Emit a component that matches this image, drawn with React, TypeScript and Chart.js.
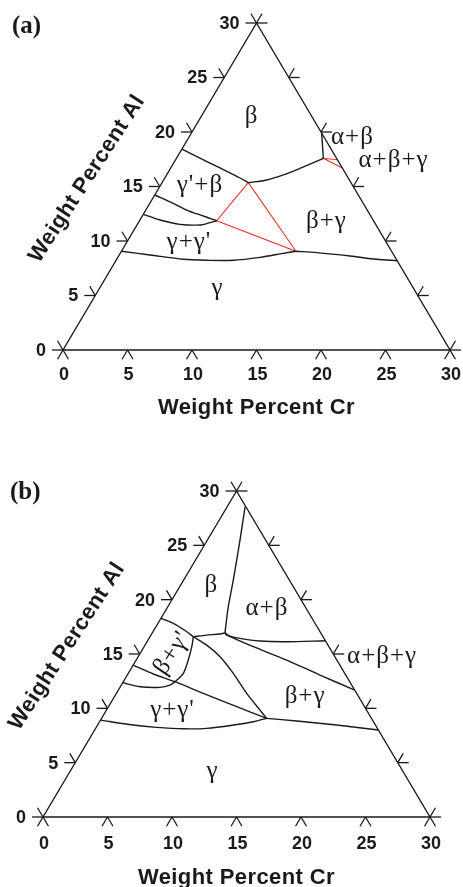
import React, { useEffect, useRef } from "react";
import { Chart, registerables } from "chart.js";

Chart.register(...registerables);

type P = [number, number]; // [Cr wt%, Al wt%]

// ---------- axes ----------
const TICK_VALUES = [0, 5, 10, 15, 20, 25, 30];
const TICK_LABELS = ["0", "5", "10", "15", "20", "25", "30"];
const X_TITLE = "Weight Percent Cr";
const Y_TITLE = "Weight Percent Al";

// ---------- panel (a) phase boundaries, [Cr, Al] wt% ----------
const A_BETA_LEFT: P[] = [[0, 18.44], [1.81, 17.61], [3.82, 16.7], [5.83, 15.78], [6.69, 15.35]];
const A_BETA_RIGHT: P[] = [[6.69, 15.35], [7.99, 15.6], [9.05, 16.06], [10.03, 16.67], [11.39, 17.59]];
const A_ALPHA_BETA: P[] = [[10.1, 19.9], [11.39, 17.59]];
const A_GP_BETA_LOW: P[] = [[0, 14.22], [1.82, 13.46], [3.17, 12.84], [4.43, 12.39], [5.36, 12.08], [5.98, 11.86]];
const A_GGP_UP: P[] = [[0, 12.45], [1.56, 11.93], [3.3, 11.53], [4.89, 11.47], [5.56, 11.68], [5.98, 11.86]];
const A_GAMMA_LEFT: P[] = [[0, 9.06], [2.38, 8.72], [5.17, 8.32], [7.03, 8.23], [9.09, 8.23], [11.02, 8.5], [12.64, 8.87], [13.53, 9.06]];
const A_GAMMA_RIGHT: P[] = [[13.53, 9.06], [15.21, 8.93], [17.94, 8.62], [20.16, 8.32], [21.82, 8.19]];
const A_TIE_CENTER: P[] = [[6.69, 15.35], [5.98, 11.86], [13.53, 9.06], [6.69, 15.35]];
const A_TIE_CORNER: P[] = [[12.55, 17.45], [11.39, 17.59], [13.3, 16.7]];

// ---------- panel (b) phase boundaries, [Cr, Al] wt% ----------
const B_BETA_ALPHA: P[] = [[1.39, 28.55], [2.53, 25.48], [3.85, 21.8], [4.69, 19.35], [5.63, 16.95]];
const B_BETA_SHORT: P[] = [[3.36, 16.59], [4.32, 16.74], [5.3, 16.84], [5.63, 16.95]];
const B_ALPHA_LOW: P[] = [[5.63, 16.95], [5.87, 16.74], [7.05, 16.44], [8.72, 16.19], [10.83, 16.13], [13.75, 16.22]];
const B_BG_ABG: P[] = [[5.63, 16.95], [6.21, 16.59], [8.47, 15.67], [11.67, 14.44], [14.94, 13.06], [18.28, 11.7]];
const B_BETA_GAMMA_DIV: P[] = [[3.36, 16.59], [4.78, 15.82], [6.35, 14.75], [8.14, 13.22], [10.1, 11.38], [11.9, 9.84], [12.8, 9.08]];
const B_BGP_UP: P[] = [[0, 18.28], [1.19, 17.82], [2.62, 17.05], [3.36, 16.59]];
const B_BGP_RIGHT: P[] = [[3.36, 16.59], [3.7, 15.67], [4.04, 14.44], [4.27, 13.22], [4.01, 12.45]];
const B_GP_LOW: P[] = [[0, 13.98], [1.97, 13.16], [4.01, 12.45], [6.74, 11.38], [9.95, 10.15], [12.8, 9.08]];
const B_GGP_UP: P[] = [[0, 12.36], [1.53, 11.99], [3.1, 11.93], [3.77, 12.14], [4.01, 12.45]];
const B_GAMMA_LEFT: P[] = [[0, 8.92], [2.77, 8.46], [4.68, 8.25], [6.82, 8.12], [8.61, 8.16], [10.52, 8.46], [11.92, 8.77], [12.8, 9.08]];
const B_GAMMA_RIGHT: P[] = [[12.8, 9.08], [15.25, 8.83], [18.54, 8.46], [21.99, 8.0]];

// ---------- phase names ----------
const A_PHASES = ["β", "α+β", "α+β+γ", "γ'+β", "β+γ", "γ+γ'", "γ"];
const B_PHASES = ["β", "α+β", "α+β+γ", "β+γ", "γ+γ'", "γ", "β+γ'"];

// ---------- styling / placement ----------
const INK = "#1a1a1a";
const RED = "#e8372c";
const T = 0.85;
const TICK_FONT = 'bold 18px "Liberation Sans", Arial, sans-serif';
const TITLE_FONT = 'bold 22px "Liberation Sans", Arial, sans-serif';
const GREEK_FONT = '25px "Liberation Serif", "Times New Roman", serif';
const PANEL_FONT = 'bold 25px "Liberation Serif", "Times New Roman", serif';

// anchor (Cr, Al) for the phase names, rotation in degrees
const A_PHASE_AT: { at: P; rot?: number }[] = [
  { at: [4.2, 20.83] }, { at: [12.99, 18.9] }, { at: [17.24, 16.76] },
  { at: [3.37, 14.5] }, { at: [14.83, 11.19] }, { at: [5.11, 9.31] }, { at: [9.46, 5.05] },
];
const B_PHASE_AT: { at: P; rot?: number }[] = [
  { at: [2.71, 20.7] }, { at: [8.07, 18.58] }, { at: [19.2, 14.17] },
  { at: [15.07, 10.49] }, { at: [5.44, 9.2] }, { at: [11.35, 3.59] }, { at: [2.46, 15.09], rot: -56 },
];

function toXY([c, a]: P) {
  return { x: c + a / 2, y: a };
}

function seg(points: P[], color: string, width: number, tension = 0) {
  return {
    data: points.map(toXY),
    showLine: true,
    borderColor: color,
    backgroundColor: color,
    borderWidth: width,
    pointRadius: 0,
    pointHoverRadius: 0,
    tension,
    fill: false,
    clip: false as any,
    borderCapStyle: "butt" as const,
  };
}

function frameDatasets() {
  const ds: any[] = [seg([[0, 0], [30, 0], [0, 30], [0, 0]], INK, 1.4)];
  for (const v of TICK_VALUES) {
    ds.push(seg([[v, 0], [v, -T]], INK, 1.3));
    ds.push(seg([[v, 0], [v + T, -T]], INK, 1.3));
    ds.push(seg([[0, v], [-T, v]], INK, 1.3));
    ds.push(seg([[0, v], [-T, v + T]], INK, 1.3));
    ds.push(seg([[30 - v, v], [30 - v + T, v]], INK, 1.3));
    ds.push(seg([[30 - v, v], [30 - v, v + T]], INK, 1.3));
  }
  return ds;
}

const textPlugin = {
  id: "ternaryText",
  afterDatasetsDraw(chart: any, _args: any, opts: any) {
    const { ctx } = chart;
    const xs = chart.scales.x;
    const ys = chart.scales.y;
    const px = (c: number, a: number) => [xs.getPixelForValue(c + a / 2), ys.getPixelForValue(a)];
    ctx.save();
    ctx.fillStyle = INK;
    // tick labels
    ctx.font = TICK_FONT;
    ctx.textBaseline = "middle";
    TICK_VALUES.forEach((v, i) => {
      const [lx, ly] = px(-T, v);
      ctx.textAlign = "right";
      ctx.fillText(TICK_LABELS[i], lx - 6, ly + 1);
      const [bx, by] = px(v, 0);
      ctx.textAlign = "center";
      ctx.fillText(TICK_LABELS[i], bx + 1, by + opts.tickGap);
    });
    // titles
    ctx.font = TITLE_FONT;
    try { (ctx as any).letterSpacing = "0.4px"; } catch (e) {}
    const [tx, ty] = px(15, 0);
    ctx.textAlign = "center";
    ctx.fillText(X_TITLE, tx, ty + opts.titleGap);
    const [lx, ly] = px(-6, 15.7);
    ctx.save();
    ctx.translate(lx, ly);
    ctx.rotate((-57 * Math.PI) / 180);
    ctx.fillText(Y_TITLE, 0, 0);
    ctx.restore();
    // phase names
    ctx.font = GREEK_FONT;
    try { (ctx as any).letterSpacing = "1px"; } catch (e) {}
    ctx.textAlign = "center";
    opts.phases.forEach((name: string, i: number) => {
      const spec = opts.phaseAt[i];
      const [x, y] = px(spec.at[0], spec.at[1]);
      if (spec.rot) {
        ctx.save();
        ctx.translate(x, y);
        ctx.rotate((spec.rot * Math.PI) / 180);
        ctx.textBaseline = "middle";
        ctx.fillText(name, 0, 0);
        ctx.restore();
      } else {
        ctx.textBaseline = "alphabetic";
        ctx.fillText(name, x, y);
      }
    });
    // panel letter
    try { (ctx as any).letterSpacing = "0px"; } catch (e) {}
    ctx.font = PANEL_FONT;
    ctx.textAlign = "left";
    ctx.textBaseline = "middle";
    ctx.fillText(opts.panel, opts.panelX, opts.panelY);
    ctx.restore();
  },
};

type PanelProps = {
  width: number;
  height: number;
  padding: { left: number; right: number; top: number; bottom: number };
  curves: P[][];
  redCurves: P[][];
  phases: string[];
  phaseAt: { at: P; rot?: number }[];
  panel: string;
  panelX: number;
  panelY: number;
  tickGap: number;
  titleGap: number;
};

function TernaryPanel(props: PanelProps) {
  const ref = useRef<HTMLCanvasElement>(null);
  useEffect(() => {
    if (!ref.current) return;
    const datasets = [
      ...frameDatasets(),
      ...props.curves.map((c) => seg(c, INK, 1.4, 0.3)),
      ...props.redCurves.map((c) => seg(c, RED, 1.1, 0)),
    ];
    const chart = new Chart(ref.current, {
      type: "scatter",
      data: { datasets },
      options: {
        animation: false,
        responsive: false,
        maintainAspectRatio: false,
        events: [],
        layout: { padding: props.padding },
        plugins: {
          legend: { display: false },
          tooltip: { enabled: false },
          ternaryText: {
            phases: props.phases,
            phaseAt: props.phaseAt,
            panel: props.panel,
            panelX: props.panelX,
            panelY: props.panelY,
            tickGap: props.tickGap,
            titleGap: props.titleGap,
          },
        } as any,
        scales: {
          x: { type: "linear", min: 0, max: 30, display: false },
          y: { type: "linear", min: 0, max: 30, display: false },
        },
      },
      plugins: [textPlugin as any],
    });
    return () => chart.destroy();
  }, []);
  return (
    <canvas
      ref={ref}
      width={props.width}
      height={props.height}
      style={{ display: "block", width: props.width, height: props.height }}
    />
  );
}

export default function App() {
  return (
    <div style={{ width: 463, height: 887, overflow: "hidden", background: "#fff" }}>
      <style>{"html,body{margin:0;padding:0;overflow:hidden;}"}</style>
      <TernaryPanel
        width={463}
        height={440}
        padding={{ left: 63, right: 13, top: 23, bottom: 90 }}
        curves={[A_BETA_LEFT, A_BETA_RIGHT, A_ALPHA_BETA, A_GP_BETA_LOW, A_GGP_UP, A_GAMMA_LEFT, A_GAMMA_RIGHT]}
        redCurves={[A_TIE_CENTER, A_TIE_CORNER]}
        phases={A_PHASES}
        phaseAt={A_PHASE_AT}
        panel="(a)"
        panelX={12}
        panelY={27}
        tickGap={25}
        titleGap={58}
      />
      <TernaryPanel
        width={463}
        height={447}
        padding={{ left: 43, right: 33, top: 51, bottom: 70 }}
        curves={[B_BETA_ALPHA, B_BETA_SHORT, B_ALPHA_LOW, B_BG_ABG, B_BETA_GAMMA_DIV, B_BGP_UP, B_BGP_RIGHT, B_GP_LOW, B_GGP_UP, B_GAMMA_LEFT, B_GAMMA_RIGHT]}
        redCurves={[]}
        phases={B_PHASES}
        phaseAt={B_PHASE_AT}
        panel="(b)"
        panelX={10}
        panelY={53}
        tickGap={27}
        titleGap={61}
      />
    </div>
  );
}
